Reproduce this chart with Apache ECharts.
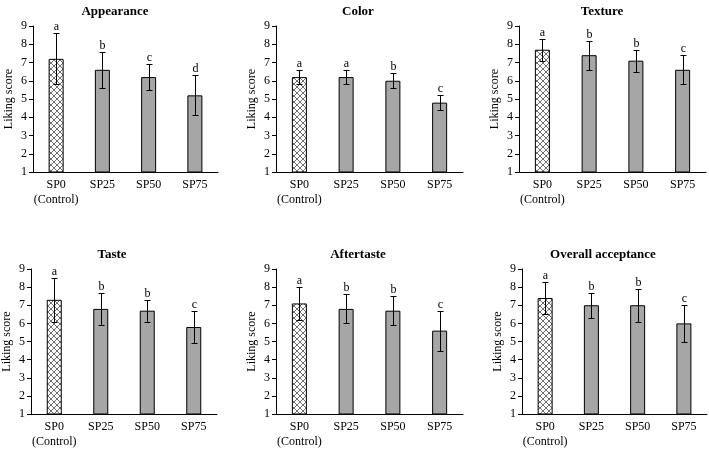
<!DOCTYPE html>
<html>
<head>
<meta charset="utf-8">
<script src="https://cdn.jsdelivr.net/npm/echarts@6/dist/echarts.min.js"></script>
<style>html,body{margin:0;padding:0;background:#fff;}#c{width:709px;height:449px;}</style>
</head>
<body>
<div id="c"></div>
<script>
const categories = ['SP0\n(Control)', 'SP25', 'SP50', 'SP75'];
const panelTitles = ['Appearance', 'Color', 'Texture', 'Taste', 'Aftertaste', 'Overall acceptance'];
const yTicks = [1, 9, 1]; // min, max, interval

const appearanceMean = [7.2, 6.6, 6.2, 5.2];
const appearanceSD = [1.4, 1.0, 0.7, 1.1];
const appearanceLetters = ['a', 'b', 'c', 'd'];

const colorMean = [6.2, 6.2, 6.0, 4.8];
const colorSD = [0.4, 0.4, 0.4, 0.4];
const colorLetters = ['a', 'a', 'b', 'c'];

const textureMean = [7.7, 7.4, 7.1, 6.6];
const textureSD = [0.6, 0.8, 0.6, 0.8];
const textureLetters = ['a', 'b', 'b', 'c'];

const tasteMean = [7.3, 6.8, 6.7, 5.8];
const tasteSD = [1.2, 0.9, 0.6, 0.9];
const tasteLetters = ['a', 'b', 'b', 'c'];

const aftertasteMean = [7.1, 6.8, 6.7, 5.6];
const aftertasteSD = [0.9, 0.8, 0.8, 1.1];
const aftertasteLetters = ['a', 'b', 'b', 'c'];

const overallMean = [7.4, 7.0, 7.0, 6.0];
const overallSD = [0.9, 0.7, 0.9, 1.0];
const overallLetters = ['a', 'b', 'b', 'c'];

const panels = [
  [appearanceMean, appearanceSD, appearanceLetters],
  [colorMean, colorSD, colorLetters],
  [textureMean, textureSD, textureLetters],
  [tasteMean, tasteSD, tasteLetters],
  [aftertasteMean, aftertasteSD, aftertasteLetters],
  [overallMean, overallSD, overallLetters]
];

// layout
const grids = [
  {left: 33, top: 26, width: 185, height: 146},
  {left: 276, top: 26, width: 187, height: 146},
  {left: 519, top: 26, width: 187, height: 146},
  {left: 31, top: 269, width: 186, height: 146},
  {left: 276, top: 269, width: 187, height: 146},
  {left: 522, top: 269, width: 185, height: 146}
];
const titlePos = [
  {x: 110, y: 0}, {x: 353, y: 0}, {x: 597, y: 0},
  {x: 107, y: 243}, {x: 353, y: 243}, {x: 598, y: 243}
];

const FONT = 'Liberation Serif';

// crosshatch pattern
const pc = document.createElement('canvas');
pc.width = 6; pc.height = 6;
const pctx = pc.getContext('2d');
pctx.fillStyle = '#ffffff';
pctx.fillRect(0, 0, 6, 6);
pctx.strokeStyle = '#707070';
pctx.lineWidth = 1;
pctx.beginPath();
pctx.moveTo(0, 0); pctx.lineTo(6, 6);
pctx.moveTo(6, 0); pctx.lineTo(0, 6);
pctx.stroke();

const option = {
  animation: false,
  backgroundColor: '#ffffff',
  title: panelTitles.map((t, i) => ({
    text: t, left: titlePos[i].x, top: titlePos[i].y, textAlign: 'center',
    textStyle: {fontFamily: FONT, fontWeight: 'bold', fontSize: 13, color: '#000'}
  })),
  grid: grids,
  xAxis: grids.map((g, i) => ({
    type: 'category', gridIndex: i, data: categories,
    axisLine: {lineStyle: {color: '#000', width: 1}},
    axisTick: {show: false},
    axisLabel: {fontFamily: FONT, fontSize: 12, color: '#000', margin: 5, lineHeight: 15, interval: 0}
  })),
  yAxis: grids.map((g, i) => ({
    type: 'value', gridIndex: i, min: yTicks[0], max: yTicks[1], interval: yTicks[2],
    name: 'Liking score', nameLocation: 'middle', nameGap: 18,
    nameTextStyle: {fontFamily: FONT, fontSize: 12, color: '#000'},
    axisLine: {show: true, lineStyle: {color: '#000', width: 1}},
    axisTick: {show: true, length: 4, lineStyle: {color: '#000'}},
    splitLine: {show: false},
    axisLabel: {fontFamily: FONT, fontSize: 12, color: '#000', margin: 6}
  })),
  series: []
};

panels.forEach((p, i) => {
  const [mean, sd, letters] = p;
  option.series.push({
    type: 'bar', xAxisIndex: i, yAxisIndex: i, barWidth: 15,
    data: mean.map((v, k) => ({
      value: v,
      itemStyle: {
        color: k === 0 ? {image: pc, repeat: 'repeat'} : '#a6a6a6',
        borderColor: '#000', borderWidth: 1
      }
    }))
  });
  option.series.push({
    type: 'custom', xAxisIndex: i, yAxisIndex: i, z: 5,
    encode: {x: 0, y: 1},
    data: mean.map((v, k) => [k, v, sd[k]]),
    renderItem: function (params, api) {
      const x = api.value(0), m = api.value(1), s = api.value(2);
      const top = api.coord([x, m + s]);
      const bot = api.coord([x, m - s]);
      const cx = Math.round(top[0]) + 0.5;
      const ty = Math.round(top[1]) + 0.5, by = Math.round(bot[1]) + 0.5;
      const ls = {stroke: '#000', lineWidth: 1};
      return {
        type: 'group',
        children: [
          {type: 'line', shape: {x1: cx, y1: ty, x2: cx, y2: by}, style: ls},
          {type: 'line', shape: {x1: cx - 3, y1: ty, x2: cx + 3, y2: ty}, style: ls},
          {type: 'line', shape: {x1: cx - 3, y1: by, x2: cx + 3, y2: by}, style: ls},
          {type: 'text', style: {text: letters[params.dataIndex], x: cx, y: ty - 1,
            align: 'center', verticalAlign: 'bottom',
            font: '12px "Liberation Serif"', fill: '#000'}}
        ]
      };
    }
  });
});

const chart = echarts.init(document.getElementById('c'), null, {renderer: 'canvas'});
chart.setOption(option);
</script>
</body>
</html>
